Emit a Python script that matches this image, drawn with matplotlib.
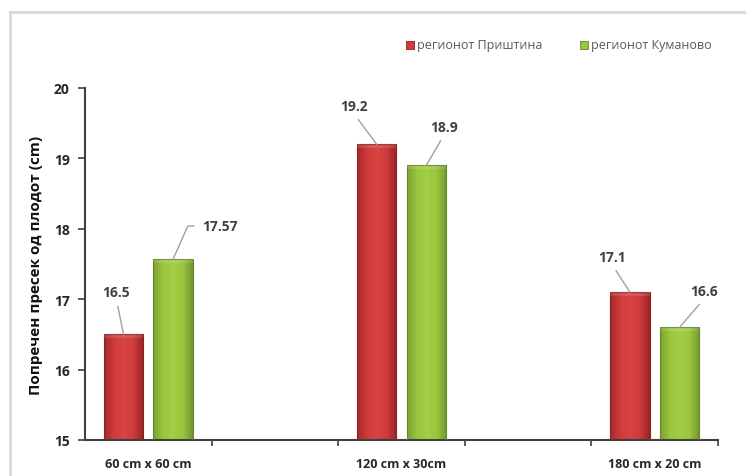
import matplotlib.pyplot as plt
import numpy as np
from matplotlib.patches import Rectangle
from matplotlib.colors import LinearSegmentedColormap

plt.rcParams['font.family'] = ['Open Sans', 'DejaVu Sans']

categories = ['60 cm x 60 cm', '120 cm x 30cm', '180 cm x 20 cm']
series_names = ['регионот Приштина', 'регионот Куманово']
pristina = [16.5, 19.2, 17.1]
kumanovo = [17.57, 18.9, 16.6]
value_labels = [['16.5', '19.2', '17.1'], ['17.57', '18.9', '16.6']]

# label offsets from the bar top, in pixels (text centre)
offsets = [[(-7, 42), (-23, 38), (-18, 35)],
           [(47, 33), (18, 38), (25, 36)]]

red_cmap = LinearSegmentedColormap.from_list('r', ['#a52a2a', '#cf3b3b', '#d84343', '#cf3b3b', '#9a2424'])
green_cmap = LinearSegmentedColormap.from_list('g', ['#7ea232', '#9ac63e', '#a3ce46', '#9ac63e', '#739630'])

fig = plt.figure(figsize=(7.46, 4.77), dpi=100)
ax = fig.add_axes([85 / 746, 36 / 477, 633 / 746, 352 / 477])

# chart area frame
fig.add_artist(plt.Line2D([10 / 746, 10 / 746], [0, 1 - 13 / 477], color='#d9d9d9', lw=2,
                          transform=fig.transFigure))
fig.add_artist(plt.Line2D([10 / 746, 1], [1 - 13 / 477, 1 - 13 / 477], color='#d9d9d9', lw=2,
                          transform=fig.transFigure))

pos = np.array([0, 2, 4])
width = 0.31
shift = 0.196
grad = np.linspace(0, 1, 64).reshape(1, -1)

for si, (vals, cmap, edge) in enumerate([(pristina, red_cmap, '#8a2020'),
                                          (kumanovo, green_cmap, '#64852a')]):
    xs = pos + (-shift if si == 0 else shift)
    bars = ax.bar(xs, np.array(vals) - 15, width, bottom=15, color='none',
                  edgecolor=edge, linewidth=0.8, zorder=3)
    for b, x, v in zip(bars, xs, vals):
        im = ax.imshow(grad, cmap=cmap, aspect='auto', zorder=2,
                       extent=[x - width / 2, x + width / 2, 15, v])
        im.set_clip_path(b)
        # faint bevel along the top edge
        ax.add_patch(Rectangle((x - width / 2, v - 0.05), width, 0.05,
                               color='white', alpha=0.12, lw=0, zorder=3))

for si, vals in enumerate([pristina, kumanovo]):
    xs = pos + (-shift if si == 0 else shift)
    for i, (x, v) in enumerate(zip(xs, vals)):
        dx, dy = offsets[si][i]
        if si == 1 and i == 0:
            arrow = dict(arrowstyle='-', color='#a0a0a0', lw=1,
                         relpos=(0, 0.5), shrinkA=4, shrinkB=0,
                         connectionstyle='angle,angleA=180,angleB=66,rad=0')
        else:
            arrow = dict(arrowstyle='-', color='#a0a0a0', lw=1,
                         relpos=(0.5, 0), shrinkA=3, shrinkB=0)
        ax.annotate(value_labels[si][i], xy=(x, v), xytext=(dx, dy),
                    textcoords='offset pixels', ha='center', va='center',
                    fontsize=10, fontweight='bold', color='#404040',
                    arrowprops=arrow)

ax.set_xlim(-0.5, 4.5)
ax.set_ylim(15, 20)
ax.set_yticks([15, 16, 17, 18, 19, 20])
ax.set_xticks(pos)
ax.set_xticklabels(categories, fontsize=9, fontweight='bold', color='#262626')
ax.set_xticks([0.5, 1.5, 2.5, 3.5, 4.5], minor=True)
ax.tick_params(axis='x', which='major', length=0, pad=12)
ax.tick_params(axis='x', which='minor', length=4, direction='out', width=1.2, color='#404040')
ax.tick_params(axis='y', length=5, width=1.2, color='#404040', labelsize=10, pad=6)
for lab in ax.get_yticklabels():
    lab.set_fontweight('bold')
    lab.set_color('#262626')

for s in ['top', 'right']:
    ax.spines[s].set_visible(False)
for s in ['left', 'bottom']:
    ax.spines[s].set_color('#404040')
    ax.spines[s].set_linewidth(1.5)

ax.set_ylabel('Попречен пресек од плодот (cm)', fontsize=11, fontweight='bold',
              color='#111111', labelpad=8)

# legend
for name, col, edge, lx in [(series_names[0], '#d23c3c', '#8a2020', 406),
                            (series_names[1], '#9cc840', '#64852a', 580)]:
    fig.add_artist(Rectangle((lx / 746, 1 - 50 / 477), 8 / 746, 8 / 477, facecolor=col,
                             edgecolor=edge, lw=0.6, transform=fig.transFigure))
    fig.text((lx + 11) / 746, 1 - 46 / 477, name, fontsize=9, color='#595959',
             va='center', ha='left')

fig.savefig('out.png', dpi=100)
